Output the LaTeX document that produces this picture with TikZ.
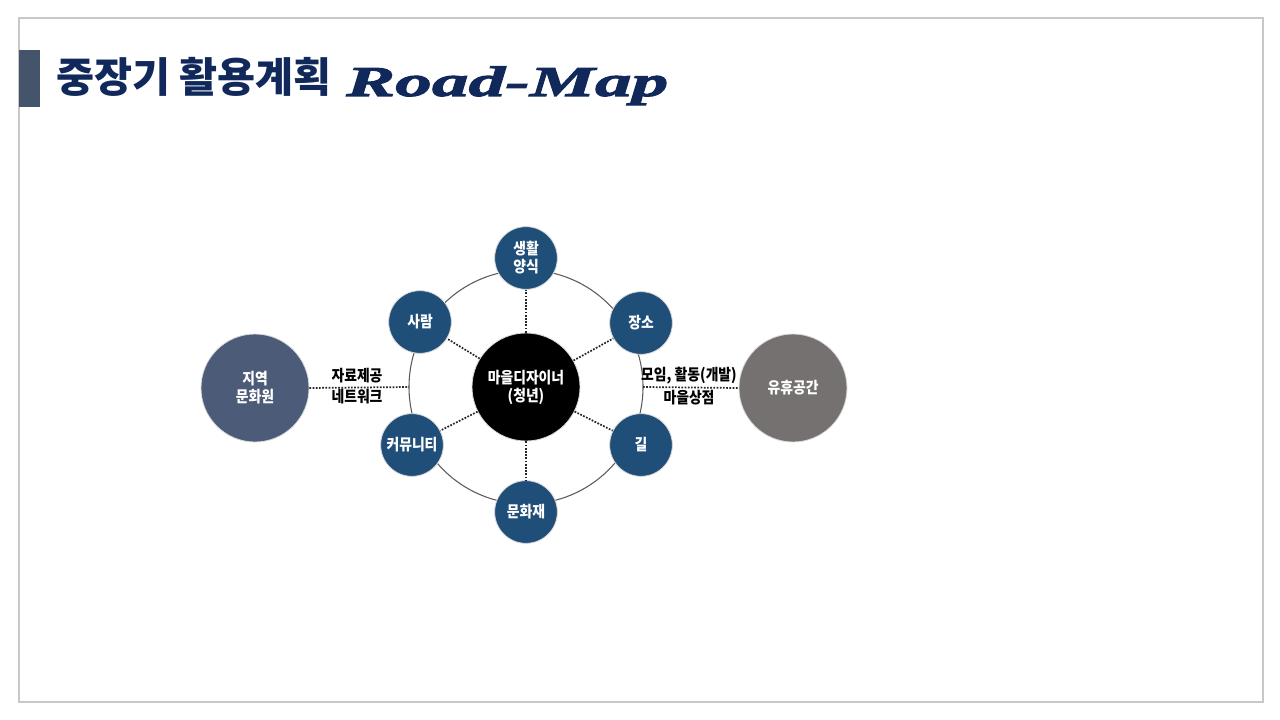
\documentclass[tikz,border=0pt]{standalone}
\usepackage{fontspec}
\newfontfamily\kr[FakeStretch=0.88]{Noto Sans CJK KR}
\newfontfamily\krtitle{Noto Sans CJK KR}
\newfontfamily\widefont[FakeStretch=1.72,BoldItalicFeatures={FakeBold=2.5}]{Liberation Serif}

\definecolor{navy}{HTML}{10285A}
\definecolor{barslate}{HTML}{44546A}
\definecolor{topicblue}{HTML}{1F4E79}
\definecolor{slateblue}{HTML}{4B5B78}
\definecolor{warmgrey}{HTML}{767171}
\definecolor{framegrey}{HTML}{C8C8C8}
\definecolor{ringgrey}{HTML}{5A5A5A}

\tikzset{
  label font/.style={font=\kr\bfseries\fontsize{11.8}{13.5}\selectfont},
  hub/.style={circle, fill=black, draw=gray!30, line width=0.6pt,
    minimum size=81pt, inner sep=0pt, text=white, align=center, label font},
  topic/.style={circle, fill=topicblue, draw=gray!30, line width=0.6pt,
    minimum size=47pt, inner sep=0pt, text=white, align=center, label font},
  partner/.style={circle, draw=gray!30, line width=0.6pt,
    minimum size=81pt, inner sep=0pt, text=white, align=center, label font},
  tag/.style={inner sep=0pt, text=black, label font},
  link/.style={line width=1.3pt, dash pattern=on 1.3pt off 1.1pt, black!85},
}

\begin{document}
\begin{tikzpicture}[x=0.75pt,y=-0.75pt]
\useasboundingbox (0,0) rectangle (1280,720);

% frame and title
\draw[framegrey, line width=0.8pt] (19,18) rectangle (1263,702);
\fill[barslate] (19,50) rectangle (40,107);
\node[anchor=base west, inner sep=0pt, text=navy,
  font=\krtitle\bfseries\fontsize{31}{33}\selectfont] (title) at (56,93) {중장기 활용계획};
\node[anchor=base west, inner sep=0pt, text=navy,
  font=\widefont\bfseries\itshape\fontsize{32}{34}\selectfont] (roadmap) at (346,96) {Road-Map};

% ring
\coordinate (ringc) at (526,387);
\draw[ringgrey, line width=0.8pt] (ringc) circle[radius=87.75pt];
\coordinate (ringW) at (409,387);
\coordinate (ringE) at (643,387);

% centre and topics
\node[hub] (hub) at (526,387) {마을디자이너\\(청년)};
\node[topic] (life) at (526,258) {생활\\양식};
\node[topic] (place) at (641,323) {장소};
\node[topic] (road) at (641,445) {길};
\node[topic] (heritage) at (526,512) {문화재};
\node[topic] (community) at (412,445) {커뮤니티};
\node[topic] (people) at (420,322) {사람};

\foreach \t in {life,place,road,heritage,community,people}
  \draw[link] (hub) -- (\t);

% partners
\node[partner, fill=slateblue] (local) at (255,388) {지역\\문화원};
\node[partner, fill=warmgrey] (idle) at (793,388) {유휴공간};
\draw[link] (local.east) -- (ringW);
\draw[link] (ringE) -- (idle.west);

\node[tag] (supply) at (357,376) {자료제공};
\node[tag] (network) at (357,397) {네트워크};
\node[tag] (meeting) at (689,376) {모임, 활동(개발)};
\node[tag] (shop) at (689,398) {마을상점};
\end{tikzpicture}
\end{document}
